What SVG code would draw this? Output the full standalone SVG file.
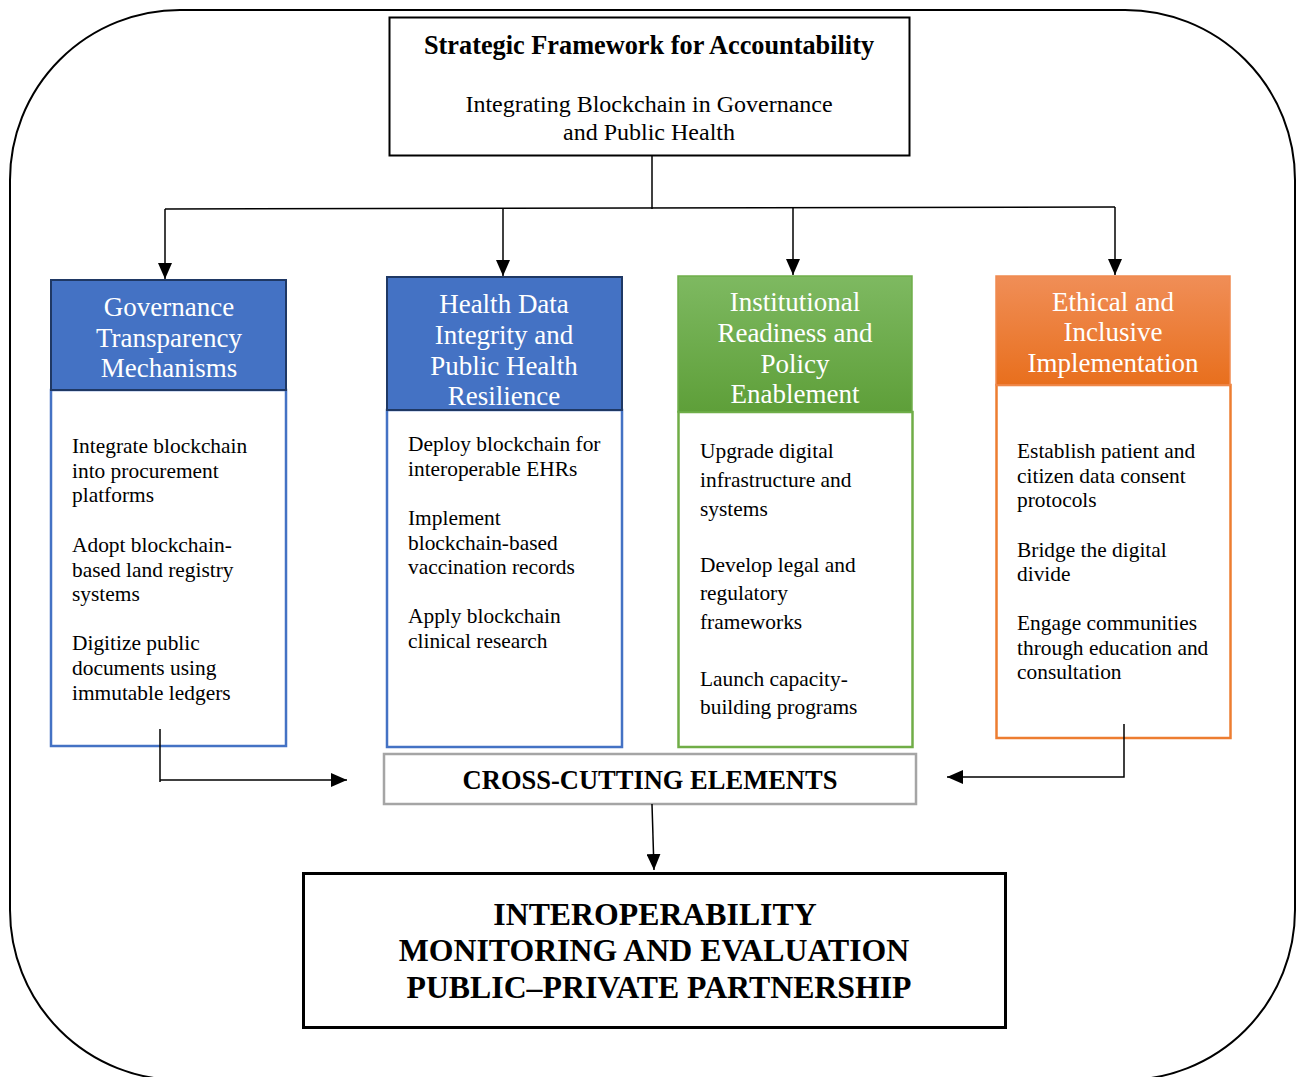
<svg xmlns="http://www.w3.org/2000/svg" width="1298" height="1077" viewBox="0 0 1298 1077">
  <defs>
    <style>
      .serif { font-family: "Liberation Serif", "Times New Roman", serif; }
      .title { font-size: 26.3px; font-weight: bold; fill: #000; }
      .sub { font-size: 24px; fill: #000; }
      .head { font-size: 27px; fill: #fff; }
      .body { font-size: 21.4px; fill: #000; }
      .cross { font-size: 26.5px; font-weight: bold; fill: #000; }
      .big { font-size: 31.8px; font-weight: bold; fill: #000; }
      .conn { stroke: #000; stroke-width: 1.5; fill: none; }
    </style>
    <marker id="arrowLg" viewBox="0 0 16 14" refX="16" refY="7" markerWidth="16" markerHeight="14" markerUnits="userSpaceOnUse" orient="auto">
      <path d="M0,0 L16,7 L0,14 Z" fill="#000"/>
    </marker>
    <linearGradient id="gGreen" x1="0" y1="0" x2="0" y2="1">
      <stop offset="0" stop-color="#7EB961"/>
      <stop offset="1" stop-color="#5E9F39"/>
    </linearGradient>
    <linearGradient id="gOrange" x1="0" y1="0" x2="0" y2="1">
      <stop offset="0" stop-color="#F08E57"/>
      <stop offset="1" stop-color="#E86F1D"/>
    </linearGradient>
  </defs>

  <!-- outer frame -->
  <rect x="10" y="10" width="1285" height="1070" rx="170" ry="170" fill="#fff" stroke="#000" stroke-width="2"/>

  <!-- title -->
  <g id="title">
    <rect x="389.5" y="17.5" width="520" height="138" fill="#fff" stroke="#000" stroke-width="2"/>
    <text class="serif title" x="649" y="54" text-anchor="middle">Strategic Framework for Accountability</text>
    <text class="serif sub" x="649" y="112" text-anchor="middle">Integrating Blockchain in Governance</text>
    <text class="serif sub" x="649" y="140" text-anchor="middle">and Public Health</text>
  </g>

  <!-- Governance column -->
  <g id="governance">
    <rect x="51" y="390" width="235" height="356" fill="#fff" stroke="#4472C4" stroke-width="2.5"/>
    <rect x="51" y="280" width="235" height="110" fill="#4472C4" stroke="#1F3864" stroke-width="2"/>
    <text class="serif head" text-anchor="middle"><tspan x="169" y="316">Governance</tspan><tspan x="169" y="347">Transparency</tspan><tspan x="169" y="377">Mechanisms</tspan></text>
    <text class="serif body">
      <tspan x="72" y="453">Integrate blockchain</tspan>
      <tspan x="72" y="478">into procurement</tspan>
      <tspan x="72" y="502">platforms</tspan>
      <tspan x="72" y="552">Adopt blockchain-</tspan>
      <tspan x="72" y="577">based land registry</tspan>
      <tspan x="72" y="601">systems</tspan>
      <tspan x="72" y="650">Digitize public</tspan>
      <tspan x="72" y="675">documents using</tspan>
      <tspan x="72" y="700">immutable ledgers</tspan>
    </text>
  </g>

  <!-- Health data column -->
  <g id="health">
    <rect x="387" y="410" width="235" height="337" fill="#fff" stroke="#4472C4" stroke-width="2.5"/>
    <rect x="387" y="277" width="235" height="133" fill="#4472C4" stroke="#1F3864" stroke-width="2"/>
    <text class="serif head" text-anchor="middle"><tspan x="504" y="313">Health Data</tspan><tspan x="504" y="344">Integrity and</tspan><tspan x="504" y="375">Public Health</tspan><tspan x="504" y="405">Resilience</tspan></text>
    <text class="serif body">
      <tspan x="408" y="451">Deploy blockchain for</tspan>
      <tspan x="408" y="476">interoperable EHRs</tspan>
      <tspan x="408" y="525">Implement</tspan>
      <tspan x="408" y="550">blockchain-based</tspan>
      <tspan x="408" y="574">vaccination records</tspan>
      <tspan x="408" y="623">Apply blockchain</tspan>
      <tspan x="408" y="648">clinical research</tspan>
    </text>
  </g>

  <!-- Institutional column -->
  <g id="institutional">
    <rect x="678.5" y="412" width="234" height="335" fill="#fff" stroke="#70AD47" stroke-width="2.5"/>
    <rect x="678" y="276" width="234" height="136" fill="url(#gGreen)" stroke="#6FAE4A" stroke-width="1.5"/>
    <text class="serif head" text-anchor="middle"><tspan x="795" y="311">Institutional</tspan><tspan x="795" y="342">Readiness and</tspan><tspan x="795" y="373">Policy</tspan><tspan x="795" y="403">Enablement</tspan></text>
    <text class="serif body">
      <tspan x="700" y="458">Upgrade digital</tspan>
      <tspan x="700" y="487">infrastructure and</tspan>
      <tspan x="700" y="516">systems</tspan>
      <tspan x="700" y="572">Develop legal and</tspan>
      <tspan x="700" y="600">regulatory</tspan>
      <tspan x="700" y="629">frameworks</tspan>
      <tspan x="700" y="686">Launch capacity-</tspan>
      <tspan x="700" y="714">building programs</tspan>
    </text>
  </g>

  <!-- Ethical column -->
  <g id="ethical">
    <rect x="996.5" y="385" width="234" height="353" fill="#fff" stroke="#ED7D31" stroke-width="2.5"/>
    <rect x="996" y="276" width="234" height="109" fill="url(#gOrange)" stroke="#F08A50" stroke-width="1.5"/>
    <text class="serif head" text-anchor="middle"><tspan x="1113" y="311">Ethical and</tspan><tspan x="1113" y="341">Inclusive</tspan><tspan x="1113" y="372">Implementation</tspan></text>
    <text class="serif body">
      <tspan x="1017" y="458">Establish patient and</tspan>
      <tspan x="1017" y="483">citizen data consent</tspan>
      <tspan x="1017" y="507">protocols</tspan>
      <tspan x="1017" y="557">Bridge the digital</tspan>
      <tspan x="1017" y="581">divide</tspan>
      <tspan x="1017" y="630">Engage communities</tspan>
      <tspan x="1017" y="655">through education and</tspan>
      <tspan x="1017" y="679">consultation</tspan>
    </text>
  </g>

  <!-- cross-cutting elements -->
  <g id="crosscutting">
    <rect x="384" y="754" width="532" height="50" fill="#fff" stroke="#A5A5A5" stroke-width="2.5"/>
    <text class="serif cross" x="650" y="789" text-anchor="middle">CROSS-CUTTING ELEMENTS</text>
  </g>

  <!-- outcomes -->
  <g id="outcomes">
    <rect x="303.5" y="873.5" width="702" height="154" fill="#fff" stroke="#000" stroke-width="3"/>
    <text class="serif big" text-anchor="middle"><tspan x="655" y="925">INTEROPERABILITY</tspan><tspan x="654" y="961">MONITORING AND EVALUATION</tspan><tspan x="659" y="998">PUBLIC–PRIVATE PARTNERSHIP</tspan></text>
  </g>

  <!-- connectors -->
  <g id="connectors">
    <line class="conn" x1="652" y1="156" x2="652" y2="209"/>
    <line class="conn" x1="165" y1="209" x2="1115" y2="207"/>
    <line class="conn" x1="165" y1="209" x2="165" y2="279" marker-end="url(#arrowLg)"/>
    <line class="conn" x1="503" y1="208" x2="503" y2="276" marker-end="url(#arrowLg)"/>
    <line class="conn" x1="793" y1="208" x2="793" y2="275" marker-end="url(#arrowLg)"/>
    <line class="conn" x1="1115" y1="207" x2="1115" y2="275" marker-end="url(#arrowLg)"/>
    <polyline class="conn" points="160,729 160,782"/>
    <line class="conn" x1="160" y1="780" x2="347" y2="780" marker-end="url(#arrowLg)"/>
    <polyline class="conn" points="1124,724 1124,777 947,777" marker-end="url(#arrowLg)"/>
    <line class="conn" x1="652" y1="804" x2="654" y2="870" marker-end="url(#arrowLg)"/>
  </g>
</svg>
